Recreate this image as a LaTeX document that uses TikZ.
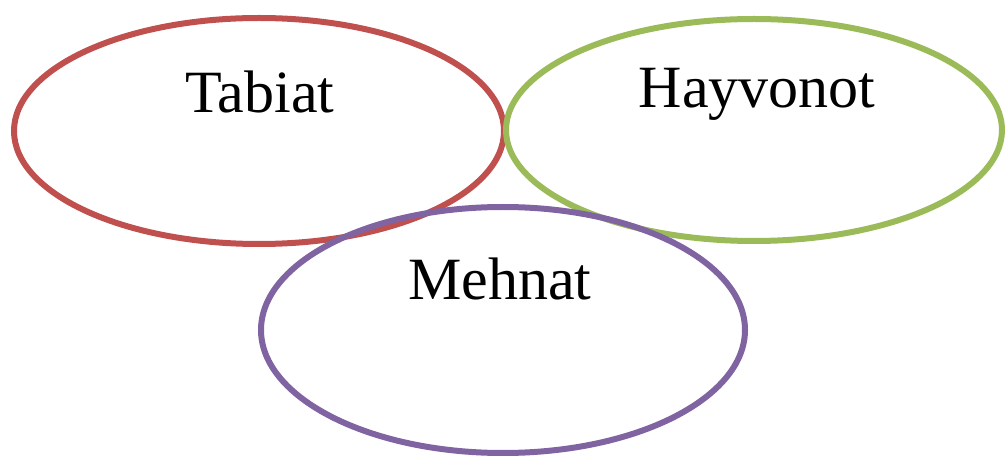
\documentclass[tikz,border=0pt]{standalone}
\usepackage{fontspec}
\setmainfont{Liberation Serif}
\usetikzlibrary{shapes.geometric}
\definecolor{ored}{HTML}{C0504D}
\definecolor{ogreen}{HTML}{9BBB59}
\definecolor{opurple}{HTML}{8064A2}
\tikzset{
  ring/.style={ellipse, draw=#1, line width=6pt, inner sep=0pt, outer sep=0pt},
  lbl/.style={anchor=base, inner sep=0pt, font=\fontsize{60}{72}\selectfont}
}
\begin{document}
\begin{tikzpicture}[x=1pt,y=-1pt]
\useasboundingbox (0,0) rectangle (1005,457);
\node[ring=ored, minimum width=490pt, minimum height=226pt] (red) at (259,131) {};
\node[ring=ogreen, minimum width=496pt, minimum height=222pt] (green) at (754,130) {};
\node[ring=opurple, minimum width=484pt, minimum height=246pt] (purple) at (503,330) {};
\node[lbl] (t1) at (260,113) {Tabiat};
\node[lbl] (t2) at (757,108) {Hayvonot};
\node[lbl] (t3) at (500,300) {Mehnat};
\end{tikzpicture}
\end{document}
